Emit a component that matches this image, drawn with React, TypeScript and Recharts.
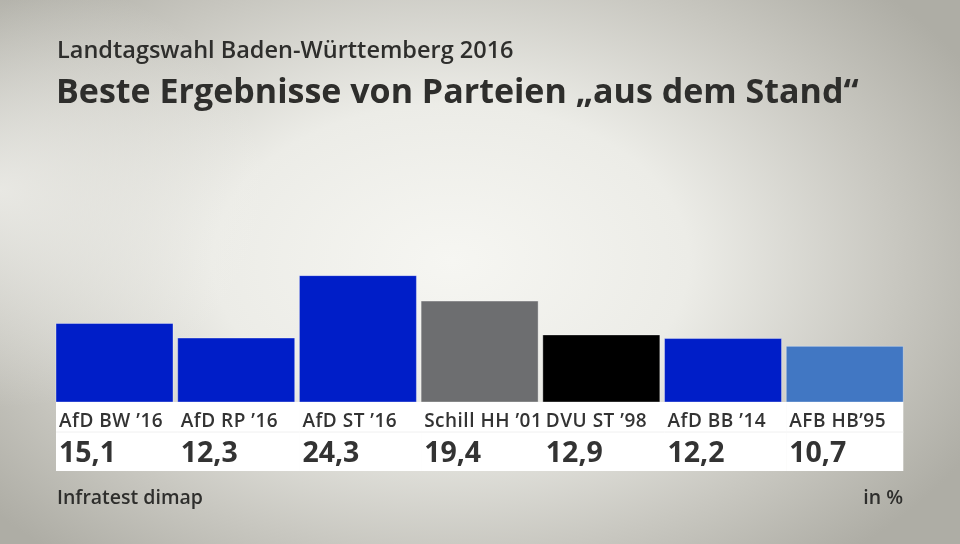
import { BarChart, Bar, XAxis, YAxis, Cell } from "recharts";

const parties = ["AfD BW \u201916", "AfD RP \u201916", "AfD ST \u201916", "Schill HH \u201901", "DVU ST \u201998", "AfD BB \u201914", "AFB HB\u201995"];
const results = [15.1, 12.3, 24.3, 19.4, 12.9, 12.2, 10.7];
const barColors = ["#001ec8", "#001ec8", "#001ec8", "#6d6e70", "#000000", "#001ec8", "#4177c3"];

const FONT = "'Open Sans', 'Noto Sans', sans-serif";
const W = 960;
const H = 544;
const GAP = 2.33;
const PLOT_L = 56 - GAP;
const PLOT_R = 903.3 + GAP;
const SLOT = (PLOT_R - PLOT_L) / parties.length;

const data = parties.map((name, i) => ({ name, value: results[i] }));

function fmt(v: number) {
  return v.toFixed(1).replace(".", ",");
}

// white label panel under each bar; panel starts at the bar's left edge
function PanelTick(props: any) {
  const { x, y, index } = props;
  const left = x - SLOT / 2 + GAP;
  const w = index === parties.length - 1 ? SLOT - 2 * GAP : SLOT + 0.5;
  return (
    <g>
      <rect x={left} y={y} width={w} height={69} fill="#ffffff" />
      <line x1={left} x2={left + w} y1={y + 30} y2={y + 30} stroke="#f0f0f0" strokeWidth={1} />
      <text x={left + 3} y={y + 25} fontFamily={FONT} fontSize={19} fontWeight={600} letterSpacing={0.5} fill="#333333">
        {parties[index]}
      </text>
      <text x={left + 3} y={y + 60} fontFamily={FONT} fontSize={28.5} fontWeight={700} fill="#333333">
        {fmt(results[index])}
      </text>
    </g>
  );
}

export default function App() {
  return (
    <div
      style={{
        position: "fixed",
        left: 0,
        top: 0,
        width: W,
        height: H,
        overflow: "hidden",
        background:
          "radial-gradient(ellipse 28% 40% at 0% 35%, rgba(244,244,240,0.75) 0%, rgba(244,244,240,0) 100%), radial-gradient(ellipse 62% 72% at 47% 48%, #f6f6f2 0%, #ececE7 40%, #c8c7c0 75%, #aeada5 100%)",
        fontFamily: FONT,
      }}
    >
      <div style={{ position: "absolute", left: 57, top: 33, fontSize: 23.5, fontWeight: 600, color: "#2e2e2c", whiteSpace: "nowrap" }}>
        Landtagswahl Baden-Württemberg 2016
      </div>
      <div style={{ position: "absolute", left: 56, top: 67, fontSize: 34, fontWeight: 700, color: "#2e2e2c", whiteSpace: "nowrap" }}>
        Beste Ergebnisse von Parteien „aus dem Stand“
      </div>
      <BarChart
        width={W}
        height={H}
        data={data}
        margin={{ top: 246, right: W - PLOT_R, bottom: 72, left: PLOT_L }}
        barCategoryGap={GAP}
      >
        <YAxis hide domain={[0, 30]} />
        <XAxis
          dataKey="name"
          height={70}
          axisLine={false}
          tickLine={false}
          tickSize={0}
          tickMargin={0}
          interval={0}
          tick={<PanelTick />}
        />
        <Bar dataKey="value" isAnimationActive={false} stroke="rgba(255,255,255,0.35)" strokeWidth={1}>
          {data.map((d, i) => (
            <Cell key={d.name} fill={barColors[i]} />
          ))}
        </Bar>
      </BarChart>
      <div style={{ position: "absolute", left: 57, top: 483, fontSize: 19.5, fontWeight: 600, color: "#2e2e2c" }}>
        Infratest dimap
      </div>
      <div style={{ position: "absolute", right: 57, top: 483, fontSize: 19.5, fontWeight: 600, color: "#2e2e2c" }}>
        in %
      </div>
    </div>
  );
}
